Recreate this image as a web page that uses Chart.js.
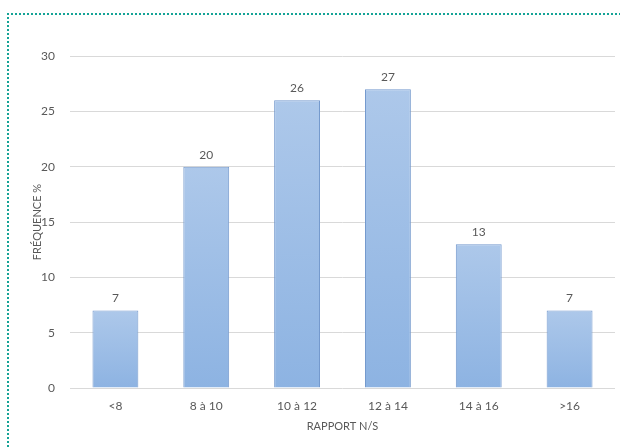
<!DOCTYPE html>
<html>
<head>
<meta charset="utf-8">
<script src="https://cdn.jsdelivr.net/npm/chart.js@4"></script>
<style>
  html, body { margin: 0; padding: 0; background: #fff; overflow: hidden; }
  #wrap { position: relative; width: 620px; height: 448px; }
  #frame {
    position: absolute; left: 7px; top: 13px; width: 700px; height: 600px;
    border-top: 2px dotted #14a396; border-left: 2px dotted #14a396;
    pointer-events: none;
  }
  canvas { position: absolute; left: 0; top: 0; }
</style>
</head>
<body>
<div id="wrap">
  <canvas id="myChart" width="620" height="448"></canvas>
  <div id="frame"></div>
</div>
<script>
// classes du rapport N/S
var categories = ['<8', '8 à 10', '10 à 12', '12 à 14', '14 à 16', '>16'];
// fréquence en %
var frequences = [7, 20, 26, 27, 13, 7];
var yTicks = [0, 5, 10, 15, 20, 25, 30];

var textColor = '#595959';
var fontFamily = 'Lato, "Open Sans", sans-serif';

// dégradé vertical sur chaque barre
function barGradient(context) {
    var chart = context.chart;
    if (!chart.chartArea || context.parsed == null) return '#9dbde6';
    var yScale = chart.scales.y;
    var top = yScale.getPixelForValue(context.parsed.y);
    var base = yScale.getPixelForValue(0);
    if (!isFinite(top) || top === base) return '#9dbde6';
    var g = chart.ctx.createLinearGradient(0, top, 0, base);
    g.addColorStop(0, '#adc8ea');
    g.addColorStop(1, '#8db3e2');
    return g;
}

// valeurs au-dessus des barres
var valueLabels = {
    id: 'valueLabels',
    afterDatasetsDraw: function (chart) {
        var ctx = chart.ctx;
        var meta = chart.getDatasetMeta(0);
        ctx.save();
        ctx.font = '12px ' + fontFamily;
        ctx.fillStyle = textColor;
        ctx.textAlign = 'center';
        ctx.textBaseline = 'middle';
        meta.data.forEach(function (bar, i) {
            ctx.fillText(String(frequences[i]), bar.x, bar.y - 12);
        });
        ctx.restore();
    }
};

var ctx = document.getElementById('myChart').getContext('2d');
var config = {
    type: 'bar',
    data: {
        labels: categories,
        datasets: [{
            data: frequences,
            backgroundColor: barGradient,
            borderColor: '#7499cd',
            borderWidth: 1,
            categoryPercentage: 1,
            barPercentage: 0.505
        }]
    },
    options: {
        responsive: false,
        animation: false,
        layout: { padding: { left: 0, top: 56, right: 5, bottom: 0 } },
        plugins: {
            legend: { display: false },
            tooltip: { enabled: false }
        },
        scales: {
            x: {
                grid: { display: false },
                border: { display: false },
                ticks: {
                    color: textColor,
                    font: { family: fontFamily, size: 12 },
                    padding: 3,
                    maxRotation: 0
                },
                title: {
                    display: true,
                    text: 'RAPPORT N/S',
                    color: textColor,
                    font: { family: fontFamily, size: 11 },
                    padding: { top: 0, bottom: 15 }
                },
                afterFit: function (scale) { scale.height = 60; }
            },
            y: {
                min: 0,
                max: 30,
                afterBuildTicks: function (scale) {
                    scale.ticks = yTicks.map(function (v) { return { value: v }; });
                },
                grid: { color: '#d9d9d9', drawTicks: false },
                border: { display: false },
                ticks: {
                    color: textColor,
                    font: { family: fontFamily, size: 12 },
                    padding: 15
                },
                title: {
                    display: true,
                    text: 'FRÉQUENCE %',
                    color: textColor,
                    font: { family: fontFamily, size: 11 },
                    padding: { top: 31, bottom: 0 }
                },
                afterFit: function (scale) { scale.width = 70; }
            }
        }
    },
    plugins: [valueLabels]
};
var myChart = new Chart(ctx, config);
</script>
</body>
</html>
